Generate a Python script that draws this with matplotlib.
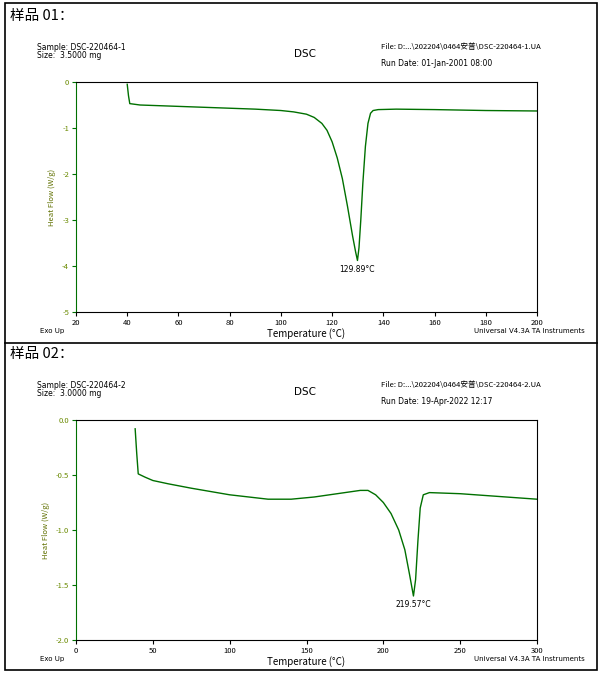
import matplotlib.pyplot as plt
from matplotlib.patches import Rectangle

plt.rcParams['font.family'] = ['Noto Sans CJK SC', 'DejaVu Sans']

W, H = 600, 673

# sample 01 curve
t1 = [40, 40.5, 41, 45, 50, 60, 70, 80, 90, 100, 105, 110, 113, 116, 118, 120, 122, 124, 126, 128, 129.2, 129.9,
      130.5, 131.2, 132, 133, 134, 135, 136, 138, 145, 160, 180, 200]
hf1 = [-0.05, -0.3, -0.47, -0.5, -0.51, -0.53, -0.55, -0.57, -0.59, -0.62, -0.65, -0.7, -0.77, -0.9, -1.05, -1.3, -1.65,
       -2.1, -2.7, -3.35, -3.7, -3.88, -3.6, -3.0, -2.2, -1.4, -0.9, -0.68, -0.62, -0.6, -0.59, -0.6, -0.62, -0.63]

# sample 02 curve
t2 = [38.5, 39.5, 40.5, 45, 50, 60, 75, 100, 125, 140, 155, 170, 185, 190, 195, 200, 205, 210, 214, 217, 219.6,
      221, 222.5, 224, 226, 230, 250, 280, 300]
hf2 = [-0.08, -0.3, -0.49, -0.52, -0.55, -0.58, -0.62, -0.68, -0.72, -0.72, -0.70, -0.67, -0.64, -0.64, -0.68, -0.75,
       -0.85, -1.0, -1.18, -1.4, -1.6, -1.45, -1.1, -0.8, -0.68, -0.66, -0.67, -0.70, -0.72]

panels = [
    dict(top=0, title="样品 01：", sample="Sample: DSC-220464-1", size="Size:  3.5000 mg",
         file="File: D:...\\202204\\0464安普\\DSC-220464-1.UA", date="Run Date: 01-Jan-2001 08:00",
         box=(76, 82, 537, 312), xlim=(20, 200), xt=range(20, 201, 20), ylim=(-5, 0), yt=range(-5, 1),
         yfmt="{:d}", t=t1, hf=hf1, peak=(129.89, -3.88), plabel="129.89°C"),
    dict(top=338, title="样品 02：", sample="Sample: DSC-220464-2", size="Size:  3.0000 mg",
         file="File: D:...\\202204\\0464安普\\DSC-220464-2.UA", date="Run Date: 19-Apr-2022 12:17",
         box=(76, 420, 537, 640), xlim=(0, 300), xt=range(0, 301, 50), ylim=(-2, 0), yt=[-2, -1.5, -1, -0.5, 0],
         yfmt="{:.1f}", t=t2, hf=hf2, peak=(219.57, -1.6), plabel="219.57°C"),
]

fig = plt.figure(figsize=(W / 100, H / 100), dpi=100)
fig.patches.append(Rectangle((5 / W, 3 / H), 592 / W, 667 / H, transform=fig.transFigure,
                             fill=False, lw=1.2, ec='black'))
fig.lines.append(plt.Line2D([5 / W, 597 / W], [1 - 343 / H, 1 - 343 / H], transform=fig.transFigure,
                            lw=1.2, color='black'))

def fx(px):
    return px / W

def fy(py):
    return 1 - py / H

for p in panels:
    top = p['top']
    fig.text(fx(10), fy(top + 16), p['title'], fontsize=10.5, va='center')
    fig.text(fx(37), fy(top + 47), p['sample'], fontsize=5.5, va='center', family='DejaVu Sans')
    fig.text(fx(37), fy(top + 55), p['size'], fontsize=5.5, va='center', family='DejaVu Sans')
    fig.text(fx(305), fy(top + 54), "DSC", fontsize=7.5, ha='center', va='center', family='DejaVu Sans')
    fig.text(fx(381), fy(top + 47), p['file'], fontsize=5.5, va='center')
    fig.text(fx(381), fy(top + 63), p['date'], fontsize=5.5, va='center', family='DejaVu Sans')

    l, t, r, b = p['box']
    ax = fig.add_axes([fx(l), fy(b), (r - l) / W, (b - t) / H])
    ax.plot(p['t'], p['hf'], color='#007000', lw=1)
    ax.set_xlim(*p['xlim'])
    ax.set_ylim(*p['ylim'])
    ax.set_xticks(list(p['xt']))
    ax.set_yticks(list(p['yt']))
    ax.set_yticklabels([p['yfmt'].format(v) for v in p['yt']])
    ax.tick_params(labelsize=5.5, length=3, pad=2)
    ax.tick_params(axis='y', colors='#007000')
    for lab in ax.get_yticklabels():
        lab.set_color('#6a8a00')
    ax.spines['left'].set_color('#007000')
    ax.set_ylabel("Heat Flow (W/g)", fontsize=5.5, color='#607000')
    ax.set_xlabel("Temperature (°C)", fontsize=7, labelpad=1)
    pk = p['peak']
    ax.annotate(p['plabel'], xy=pk, xytext=(0, -8), textcoords='offset points', ha='center',
                fontsize=5.5, family='DejaVu Sans')
    fig.text(fx(40), fy(b + 19), "Exo Up", fontsize=5, va='center', family='DejaVu Sans')
    fig.text(fx(585), fy(b + 19), "Universal V4.3A TA Instruments", fontsize=5, ha='right', va='center',
             family='DejaVu Sans')

fig.savefig("out.png", dpi=100)
